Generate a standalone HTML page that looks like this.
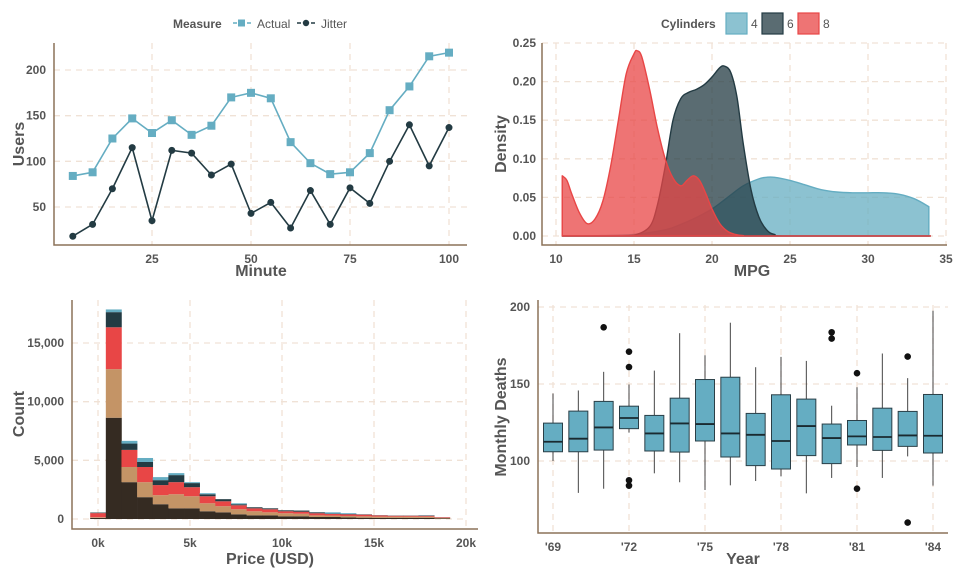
<!DOCTYPE html>
<html><head><meta charset="utf-8">
<style>
body{margin:0;background:#fff;}
svg{display:block;font-family:"Liberation Sans",sans-serif;}
.tick{font-size:12px;font-weight:bold;fill:#555;}
.atitle{font-size:16px;font-weight:bold;fill:#555;}
.grid{stroke:#f0e2d6;stroke-width:1.3;stroke-dasharray:6,5;fill:none;}
.axis{stroke:#8b7258;stroke-width:1.5;fill:none;}
</style></head>
<body>
<svg id="chart" width="960" height="576" viewBox="0 0 960 576">
<g id="p1"></g>
<g id="p2"></g>
<g id="p3"></g>
<g id="p4"></g>
</svg>
<script>
// ---------- Panel 1 data ----------
const minutes = [5,10,15,20,25,30,35,40,45,50,55,60,65,70,75,80,85,90,95,100];
const actualUsers = [84,88,125,147,131,145,129,139,170,175,169,121,98,86,88,109,156,182,215,219];
const jitterUsers = [18,31,70,115,35,112,109,85,97,43,55,27,68,31,71,54,100,140,95,137];
const p1XTicks = [25,50,75,100];
const p1YTicks = [50,100,150,200];
// ---------- Panel 2 data ----------
const cyl4Mpg = [10.4,13,15,17,18,19,20,21,22,23,23.5,24,25,26,27,28,29,30,31,32,33,33.9];
const cyl4Dens = [0,0.0005,0.002,0.008,0.015,0.024,0.035,0.05,0.065,0.074,0.076,0.076,0.072,0.066,0.06,0.057,0.056,0.056,0.056,0.054,0.048,0.038];
const cyl6Mpg = [10.4,14,15,16,16.5,17,17.5,18,18.5,19,19.5,20,20.5,20.8,21.2,21.6,22,22.5,23,23.5,24,25,34];
const cyl6Dens = [0,0,0.001,0.012,0.04,0.09,0.15,0.178,0.186,0.19,0.196,0.206,0.218,0.22,0.212,0.18,0.12,0.06,0.025,0.008,0.002,0,0];
const cyl8Mpg = [10.4,10.7,11,11.5,12,12.5,13,13.5,14,14.5,15,15.2,15.5,16,16.5,17,17.5,18,18.4,18.8,19.2,19.6,20,20.5,21,21.5,22,23,34];
const cyl8Dens = [0.078,0.072,0.055,0.03,0.016,0.022,0.045,0.09,0.15,0.21,0.236,0.24,0.232,0.19,0.14,0.1,0.075,0.065,0.072,0.078,0.072,0.055,0.035,0.016,0.006,0.002,0.0005,0,0];
const p2XTicks = [10,15,20,25,30,35];
const p2YTicks = [0,0.05,0.10,0.15,0.20,0.25];
// ---------- Panel 3 data (thousands of USD bins, counts per cut) ----------
const binCenters = [0,0.85,1.7,2.55,3.4,4.25,5.1,5.95,6.8,7.65,8.5,9.35,10.2,11.05,11.9,12.75,13.6,14.45,15.3,16.15,17,17.85,18.7];
const cutFair =      [100,8630,3140,1860,1260,910,910,660,570,400,310,310,230,230,170,170,140,110,100,100,100,100,50];
const cutGood =      [50,4140,1290,1280,770,1200,1030,680,520,430,350,260,260,220,140,120,120,120,100,100,100,100,50];
const cutVeryGood =  [350,3570,1460,1290,860,1030,770,600,420,340,250,260,170,170,180,140,140,140,100,80,80,80,50];
const cutPremium =   [50,1290,540,430,420,600,350,170,180,90,90,80,80,100,80,30,30,30,20,20,20,20,10];
const cutIdeal =     [0,230,230,340,260,170,80,90,0,80,0,0,0,0,0,110,70,0,0,0,0,30,0];
const p3XTicks = [0,5,10,15,20];
const p3YTicks = [0,5000,10000,15000];
// ---------- Panel 4 data ----------
const years = [1969,1970,1971,1972,1973,1974,1975,1976,1977,1978,1979,1980,1981,1982,1983,1984];
const whiskerLow = [100,79.3,82,118.4,92,86.2,81.2,84.2,87,90,79,89,96.1,89,103,84];
const q1 = [106,106,107.1,121,106.5,105.8,113,102.6,97,94.8,103.5,98.3,110.4,106.9,109.5,105.2];
const medians = [112.5,114.5,121.8,127.9,117.9,124.4,124,117.9,117,113,122.7,114.9,116,115.6,116.6,116.4];
const q3 = [124.6,132.4,138.7,135.6,129.6,140.8,152.9,154.4,130.9,143,140.2,124,126.3,134.3,132.2,143.2];
const whiskerHigh = [143.8,145.8,157.9,149.7,158.7,183,168.7,189.8,160.9,167.6,165,135.9,147.9,169.8,153.8,197.6];
const outlierYears = [1971,1972,1972,1972,1972,1980,1980,1981,1981,1983,1983];
const outlierValues = [186.8,171,161,87.5,84,183.6,179.5,157,82,167.8,60];
const p4XTicks = [1969,1972,1975,1978,1981,1984];
const p4YTicks = [100,150,200];

const NS='http://www.w3.org/2000/svg';
function mk(parent,tag,attrs){const e=document.createElementNS(NS,tag);for(const k in attrs)e.setAttribute(k,attrs[k]);parent.appendChild(e);return e;}
function lin(d0,d1,r0,r1){return v=>r0+(v-d0)*(r1-r0)/(d1-d0);}

// ===== Panel 1 =====
(function(){
const g=document.getElementById('p1');
const L=54,R=467,T=43,B=245;
const x=lin(25,100,152,449), y=lin(50,200,207,70);
p1XTicks.forEach(t=>{const l=mk(g,'line',{x1:x(t),x2:x(t),y1:T,y2:B,class:'grid'});

const tx=mk(g,'text',{x:x(t),y:B+18,class:'tick','text-anchor':'middle'});tx.textContent=t;
});
p1YTicks.forEach(t=>{const l=mk(g,'line',{x1:L,x2:R,y1:y(t),y2:y(t),class:'grid'});

const tx=mk(g,'text',{x:L-8,y:y(t)+4,class:'tick','text-anchor':'end'});tx.textContent=t;
});
const ax=mk(g,'path',{d:`M${L},${T} V${B} H${R}`,class:'axis'});

const la=mk(g,'polyline',{points:minutes.map((m,i)=>x(m)+','+y(actualUsers[i])).join(' '),fill:'none',stroke:'#65adc2','stroke-width':1.6});

minutes.forEach((m,i)=>{const r=mk(g,'rect',{x:x(m)-4,y:y(actualUsers[i])-4,width:8,height:8,fill:'#65adc2'});
});
const lj=mk(g,'polyline',{points:minutes.map((m,i)=>x(m)+','+y(jitterUsers[i])).join(' '),fill:'none',stroke:'#233b43','stroke-width':1.6});

minutes.forEach((m,i)=>{const c=mk(g,'circle',{cx:x(m),cy:y(jitterUsers[i]),r:3.5,fill:'#233b43'});
});
let t=mk(g,'text',{x:261,y:276,class:'atitle','text-anchor':'middle'});t.textContent='Minute';

t=mk(g,'text',{x:24,y:144,class:'atitle','text-anchor':'middle',transform:'rotate(-90 24 144)'});t.textContent='Users';

t=mk(g,'text',{x:173,y:28,'font-size':12,'font-weight':'bold',fill:'#555'});t.textContent='Measure';

let e=mk(g,'g',{});
mk(e,'line',{x1:233,x2:251,y1:23,y2:23,stroke:'#65adc2','stroke-width':1.6,'stroke-dasharray':'4,3'});
mk(e,'rect',{x:238,y:19.5,width:7,height:7,fill:'#65adc2'});
t=mk(e,'text',{x:257,y:28,'font-size':12,fill:'#555'});t.textContent='Actual';
e=mk(g,'g',{});
mk(e,'line',{x1:297,x2:315,y1:23,y2:23,stroke:'#233b43','stroke-width':1.6,'stroke-dasharray':'4,3'});
mk(e,'circle',{cx:306,cy:23,r:3.2,fill:'#233b43'});
t=mk(e,'text',{x:321,y:28,'font-size':12,fill:'#555'});t.textContent='Jitter';
})();

// ===== Panel 2 =====
(function(){
const g=document.getElementById('p2');
const L=542,R=947,T=43,B=245;
const x=lin(10,35,556,946), y=lin(0,0.25,236,43);
p2XTicks.forEach(t=>{const l=mk(g,'line',{x1:x(t),x2:x(t),y1:T,y2:B,class:'grid'});

const tx=mk(g,'text',{x:x(t),y:B+18,class:'tick','text-anchor':'middle'});tx.textContent=t;
});
p2YTicks.forEach(t=>{const l=mk(g,'line',{x1:L,x2:R,y1:y(t),y2:y(t),class:'grid'});

const tx=mk(g,'text',{x:L-6,y:y(t)+4,class:'tick','text-anchor':'end'});tx.textContent=t.toFixed(2);
});
const ax=mk(g,'path',{d:`M${L},${T} V${B} H${R}`,class:'axis'});

function smooth(pts){
 let d='';
 for(let i=0;i<pts.length-1;i++){
  const p0=pts[Math.max(0,i-1)],p1=pts[i],p2=pts[i+1],p3=pts[Math.min(pts.length-1,i+2)];
  const c1x=p1[0]+(p2[0]-p0[0])/6,c1y=p1[1]+(p2[1]-p0[1])/6;
  const c2x=p2[0]-(p3[0]-p1[0])/6,c2y=p2[1]-(p3[1]-p1[1])/6;
  d+=` C${c1x},${Math.min(c1y,236)} ${c2x},${Math.min(c2y,236)} ${p2[0]},${p2[1]}`;
 }
 return d;
}
function area(xs,ys,fill,stroke,name){
 const pts=xs.map((v,i)=>[x(v),y(ys[i])]);
 let d='M'+x(xs[0])+','+y(0)+' L'+pts[0][0]+','+pts[0][1]+smooth(pts)+' L'+x(xs[xs.length-1])+','+y(0)+' Z';
 const p=mk(g,'path',{d:d,fill:fill,'fill-opacity':0.75,stroke:stroke,'stroke-width':1.4,'stroke-linejoin':'round'});
 
}
area(cyl4Mpg,cyl4Dens,'#65adc2','#65adc2','density-4-cyl');
area(cyl6Mpg,cyl6Dens,'#233b43','#233b43','density-6-cyl');
area(cyl8Mpg,cyl8Dens,'#e84646','#e84646','density-8-cyl');
let t=mk(g,'text',{x:752,y:276,class:'atitle','text-anchor':'middle'});t.textContent='MPG';

t=mk(g,'text',{x:506,y:144,class:'atitle','text-anchor':'middle',transform:'rotate(-90 506 144)'});t.textContent='Density';

t=mk(g,'text',{x:661,y:28,'font-size':12,'font-weight':'bold',fill:'#555'});t.textContent='Cylinders';

[['4','#65adc2',726],['6','#233b43',762],['8','#e84646',798]].forEach(a=>{
 const e=mk(g,'g',{});
 mk(e,'rect',{x:a[2],y:13,width:21,height:21,fill:a[1],'fill-opacity':0.75,stroke:a[1],'stroke-width':1.2});
 const tt=mk(e,'text',{x:a[2]+25,y:28,'font-size':12,fill:'#555'});tt.textContent=a[0];
});
})();

// ===== Panel 3 =====
(function(){
const g=document.getElementById('p3');
const L=72,R=478,T=300,B=529;
const x=lin(0,20,98,466), y=lin(0,15000,519,343);
p3XTicks.forEach(t=>{const l=mk(g,'line',{x1:x(t),x2:x(t),y1:T,y2:B,class:'grid'});

const tx=mk(g,'text',{x:x(t),y:B+18,class:'tick','text-anchor':'middle'});tx.textContent=t+'k';
});
p3YTicks.forEach(t=>{const l=mk(g,'line',{x1:L,x2:R-10,y1:y(t),y2:y(t),class:'grid'});

const tx=mk(g,'text',{x:L-8,y:y(t)+4,class:'tick','text-anchor':'end'});tx.textContent=t.toLocaleString('en-US');
});
const ax=mk(g,'path',{d:`M${L},${T} V${B} H${R}`,class:'axis'});

const series=[[cutFair,'#352b22','fair'],[cutGood,'#c49466','good'],[cutVeryGood,'#e84646','very-good'],[cutPremium,'#233b43','premium'],[cutIdeal,'#65adc2','ideal']];
const hw=0.425;
binCenters.forEach((c,i)=>{
 let base=0;
 series.forEach(s=>{
  const v=s[0][i]; if(v<=0)return;
  const r=mk(g,'rect',{x:x(c-hw),y:y(base+v),width:x(c+hw)-x(c-hw)+0.3,height:y(base)-y(base+v),fill:s[1]});
  
  base+=v;
 });
});
let t=mk(g,'text',{x:270,y:564,class:'atitle','text-anchor':'middle'});t.textContent='Price (USD)';

t=mk(g,'text',{x:24,y:414,class:'atitle','text-anchor':'middle',transform:'rotate(-90 24 414)'});t.textContent='Count';

})();

// ===== Panel 4 =====
(function(){
const g=document.getElementById('p4');
const L=538,R=948,T=300,B=533;
const x=lin(1969,1984,553,933), y=lin(100,200,461,307);
p4XTicks.forEach(t=>{const l=mk(g,'line',{x1:x(t),x2:x(t),y1:T+5,y2:B,class:'grid'});

const tx=mk(g,'text',{x:x(t),y:B+18,class:'tick','text-anchor':'middle'});tx.textContent="'"+String(t).slice(2);
});
p4YTicks.forEach(t=>{const l=mk(g,'line',{x1:L,x2:R,y1:y(t),y2:y(t),class:'grid'});

const tx=mk(g,'text',{x:L-8,y:y(t)+4,class:'tick','text-anchor':'end'});tx.textContent=t;
});
const ax=mk(g,'path',{d:`M${L},${T} V${B} H${R}`,class:'axis'});

const hw=9.5;
years.forEach((yr,i)=>{
 const cx=x(yr);
 const grp=mk(g,'g',{});
 mk(grp,'line',{x1:cx,x2:cx,y1:y(whiskerHigh[i]),y2:y(q3[i]),stroke:'#444','stroke-width':1});
 mk(grp,'line',{x1:cx,x2:cx,y1:y(q1[i]),y2:y(whiskerLow[i]),stroke:'#444','stroke-width':1});
 mk(grp,'rect',{x:cx-hw,y:y(q3[i]),width:2*hw,height:y(q1[i])-y(q3[i]),fill:'#65adc2',stroke:'#2a3f47','stroke-width':1});
 mk(grp,'line',{x1:cx-hw,x2:cx+hw,y1:y(medians[i]),y2:y(medians[i]),stroke:'#1a2a30','stroke-width':1.8});
});
outlierYears.forEach((yr,i)=>{const c=mk(g,'circle',{cx:x(yr),cy:y(outlierValues[i]),r:3.3,fill:'#111'});
});
let t=mk(g,'text',{x:743,y:564,class:'atitle','text-anchor':'middle'});t.textContent='Year';

t=mk(g,'text',{x:506,y:417,class:'atitle','text-anchor':'middle',transform:'rotate(-90 506 417)'});t.textContent='Monthly Deaths';

})();
</script>
</body></html>
